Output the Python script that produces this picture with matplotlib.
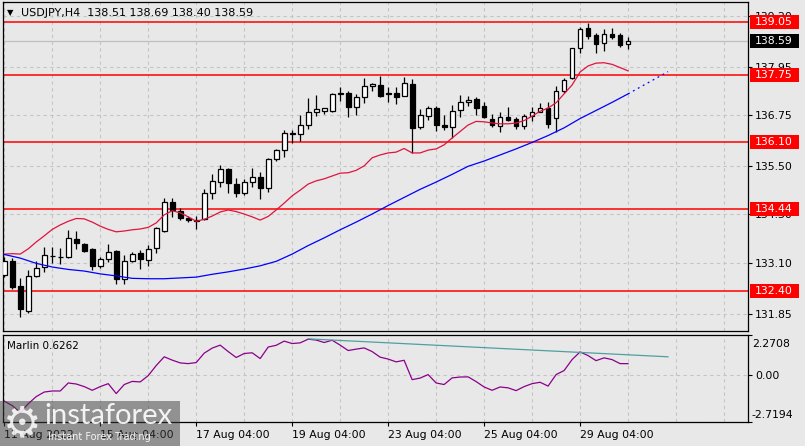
import matplotlib.pyplot as plt
import numpy as np
from matplotlib.patches import Rectangle
from matplotlib.transforms import blended_transform_factory

# USDJPY H4 candles, 11 Aug 2022 - 30 Aug 2022
opens = [132.80, 133.16, 132.53, 131.92, 132.79, 132.99, 133.26, 133.24, 133.24, 133.69,
         133.58, 133.44, 133.03, 133.20, 133.40, 132.70, 133.15, 133.35, 133.17, 133.46,
         133.90, 134.60, 134.39, 134.21, 134.15, 134.18, 134.82, 135.10, 135.42, 135.05,
         134.82, 135.10, 135.22, 134.95, 135.67, 135.89, 136.30, 136.29, 136.51, 136.84,
         136.86, 136.85, 137.27, 137.30, 136.96, 137.20, 137.47, 137.50, 137.29, 137.31,
         137.24, 137.52, 136.45, 136.74, 136.92, 136.51, 136.45, 136.88, 137.09, 137.15,
         136.99, 136.66, 136.49, 136.70, 136.66, 136.49, 136.73, 136.84, 136.92, 136.68,
         137.34, 137.67, 138.41, 138.90, 138.74, 138.53, 138.76, 138.74, 138.51]
highs = [133.25, 133.22, 132.72, 132.93, 133.15, 133.49, 133.50, 133.46, 133.92, 133.89,
         133.60, 133.48, 133.25, 133.57, 133.42, 133.30, 133.38, 133.43, 133.54, 134.00,
         134.70, 134.70, 134.47, 134.25, 134.25, 134.93, 135.30, 135.52, 135.45, 135.19,
         135.18, 135.44, 135.36, 135.70, 135.92, 136.39, 136.39, 136.76, 137.17, 137.25,
         136.93, 137.30, 137.46, 137.34, 137.28, 137.67, 137.55, 137.73, 137.46, 137.46,
         137.70, 137.64, 136.90, 136.98, 136.98, 136.75, 137.00, 137.25, 137.23, 137.20,
         137.07, 136.78, 136.84, 136.95, 136.72, 136.78, 136.96, 137.05, 137.07, 137.48,
         137.68, 138.42, 138.93, 139.04, 138.78, 138.88, 138.90, 138.78, 138.69]
lows = [132.75, 132.45, 131.76, 131.87, 132.75, 132.88, 133.10, 133.08, 133.22, 133.45,
        133.38, 132.93, 132.98, 133.13, 132.57, 132.57, 133.13, 132.96, 133.02, 133.34,
        133.87, 134.23, 134.16, 134.12, 133.93, 134.15, 134.67, 134.97, 134.82, 134.74,
        134.78, 134.99, 134.67, 134.86, 135.63, 135.73, 136.07, 136.12, 136.40, 136.73,
        136.78, 136.83, 137.11, 136.72, 136.76, 137.05, 137.36, 137.21, 137.09, 137.03,
        137.22, 135.81, 136.41, 136.63, 136.37, 136.39, 136.18, 136.72, 136.98, 136.76,
        136.68, 136.45, 136.33, 136.60, 136.41, 136.41, 136.61, 136.82, 136.43, 136.33,
        137.30, 137.65, 138.28, 138.64, 138.28, 138.34, 138.64, 138.45, 138.40]
closes = [133.15, 132.51, 131.95, 132.79, 132.97, 133.29, 133.28, 133.25, 133.71, 133.60,
          133.40, 133.03, 133.19, 133.36, 132.70, 133.15, 133.32, 133.20, 133.45, 133.96,
          134.60, 134.40, 134.22, 134.15, 134.13, 134.82, 135.13, 135.42, 135.07, 134.82,
          135.10, 135.22, 134.95, 135.67, 135.89, 136.32, 136.31, 136.51, 136.82, 136.91,
          136.92, 137.27, 137.29, 136.95, 137.20, 137.48, 137.53, 137.23, 137.28, 137.21,
          137.54, 136.44, 136.76, 136.92, 136.51, 136.45, 136.86, 137.09, 137.14, 136.92,
          136.72, 136.51, 136.70, 136.63, 136.49, 136.73, 136.84, 136.92, 136.53, 137.34,
          137.62, 138.41, 138.88, 138.72, 138.51, 138.76, 138.69, 138.49, 138.59]

# fast moving average (red)
ma_fast = [133.32, 133.33, 133.32, 133.45, 133.62, 133.77, 133.93, 134.04, 134.13, 134.20,
           134.19, 134.11, 134.01, 133.93, 133.87, 133.89, 133.92, 133.94, 133.98, 134.09,
           134.29, 134.39, 134.34, 134.24, 134.13, 134.18, 134.26, 134.36, 134.41, 134.37,
           134.31, 134.24, 134.16, 134.25, 134.41, 134.58, 134.76, 134.90, 135.05, 135.13,
           135.18, 135.25, 135.32, 135.33, 135.39, 135.50, 135.70, 135.77, 135.82, 135.84,
           135.93, 135.82, 135.82, 135.89, 135.92, 136.02, 136.19, 136.35, 136.51, 136.60,
           136.59, 136.56, 136.54, 136.54, 136.56, 136.62, 136.73, 136.85, 136.93, 137.06,
           137.28, 137.50, 137.82, 137.97, 138.04, 138.05, 138.01, 137.93, 137.85]

# slow moving average (blue), read every second bar, plus its forward projection
ma_slow_idx = list(range(0, 79, 2))
ma_slow = [133.31, 133.22, 133.09, 133.00, 132.94, 132.90, 132.83, 132.78, 132.72, 132.71,
           132.71, 132.73, 132.75, 132.82, 132.88, 132.95, 133.03, 133.14, 133.32, 133.53,
           133.72, 133.92, 134.11, 134.31, 134.52, 134.72, 134.92, 135.10, 135.29, 135.49,
           135.62, 135.77, 135.92, 136.08, 136.25, 136.44, 136.67, 136.87, 137.07, 137.28]
ma_slow_proj_idx = [78, 83]
ma_slow_proj = [137.28, 137.83]

# Marlin oscillator
marlin = [-1.52, -1.78, -2.18, -1.67, -1.26, -1.00, -0.94, -0.94, -0.48, -0.54,
          -0.69, -0.90, -0.69, -0.52, -1.09, -0.57, -0.39, -0.42, -0.06, 0.52,
          1.02, 0.83, 0.67, 0.63, 0.69, 1.23, 1.52, 1.69, 1.32, 0.98,
          1.21, 1.25, 0.92, 1.58, 1.68, 1.92, 1.78, 1.82, 2.03, 1.98,
          1.84, 1.97, 1.69, 1.38, 1.46, 1.53, 1.32, 1.00, 0.89, 0.73,
          0.82, -0.29, -0.20, 0.00, -0.48, -0.57, -0.19, -0.14, -0.13, -0.40,
          -0.71, -0.90, -0.71, -0.76, -0.92, -0.69, -0.52, -0.44, -0.66, 0.00,
          0.23, 0.86, 1.30, 1.09, 0.80, 0.96, 0.86, 0.63, 0.6262]
marlin_trend_idx = [38, 83]
marlin_trend = [2.05, 1.02]
marlin_max = 2.2708
marlin_min = -2.7194

levels = [139.05, 137.75, 136.10, 134.44, 132.40]
last_price = 138.59
price_ticks = [131.85, 133.10, 134.30, 135.50, 136.75, 137.95, 139.20]
date_idx = [0, 12, 24, 36, 48, 60, 72]
date_labels = ["11 Aug 2022", "15 Aug 04:00", "17 Aug 04:00", "19 Aug 04:00",
               "23 Aug 04:00", "25 Aug 04:00", "29 Aug 04:00"]

BG = "#e8e8e8"
GRID = "#c4c4c4"
FS = 7.8

W, H = 805, 446
fig = plt.figure(figsize=(W / 100, H / 100), dpi=100, facecolor=BG)
ax = fig.add_axes([3 / W, 1 - 331 / H, 745 / W, 329.5 / H], facecolor=BG)
ax2 = fig.add_axes([3 / W, 1 - 422 / H, 745 / W, 87 / H], facecolor=BG)

x = np.arange(len(opens))
o = np.array(opens)
c = np.array(closes)
up = c >= o

# candles
ax.vlines(x, lows, highs, color="black", lw=0.9, zorder=3)
body_lo = np.minimum(o, c)
body_h = np.maximum(np.abs(c - o), 0.004)
ax.bar(x, body_h, bottom=body_lo, width=0.6,
       color=np.where(up, "white", "black"), edgecolor="black", lw=0.9, zorder=4)

ax.plot(x, ma_fast, color="#e0143c", lw=0.9, zorder=5)
ax.plot(ma_slow_idx, ma_slow, color="#0000ff", lw=0.9, zorder=5)
ax.plot(ma_slow_proj_idx, ma_slow_proj, color="#0000ff", lw=0.9,
        ls=(0, (1.5, 3)), zorder=5)

for lv in levels:
    ax.axhline(lv, color="#ff0000", lw=1.1, zorder=2)
ax.axhline(last_price, color="#c0c0c0", lw=0.9, zorder=1)

xmin, xmax = -0.16, 93.0
ymin, ymax = 131.418, 139.564
ax.set_xlim(xmin, xmax)
ax.set_ylim(ymin, ymax)
ax.set_xticks(np.arange(0, 93, 6))
ax.tick_params(axis="x", length=0, labelbottom=False)
ax.yaxis.tick_right()
ax.set_yticks(price_ticks, labels=[f"{v:.2f}" for v in price_ticks])
ax.tick_params(axis="y", direction="out", length=3, width=0.8, labelsize=FS, pad=2)
ax.grid(True, color=GRID, ls=(0, (3, 3)), lw=0.8)

# price boxes on the right scale
tr = blended_transform_factory(ax.transAxes, ax.transData)
px = (ymax - ymin) / 329.5
def price_box(val, fc):
    ax.add_patch(Rectangle((1.0027, val - 7 * px), 0.066, 14 * px, transform=tr,
                           facecolor=fc, edgecolor="none", clip_on=False, zorder=6))
    ax.text(1.0094, val, f"{val:.2f}", transform=tr, color="white", fontsize=FS,
            va="center", ha="left", clip_on=False, zorder=7)

for lv in levels:
    price_box(lv, "#ff0000")
price_box(last_price, "black")

fig.text(7 / W, 1 - 13 / H, "\u25bc", fontsize=6, va="center", ha="left")
fig.text(21 / W, 1 - 13 / H,
         f"USDJPY,H4  {opens[-1]:.2f} {highs[-1]:.2f} {lows[-1]:.2f} {closes[-1]:.2f}",
         fontsize=8, va="center", ha="left")

# indicator window
ax2.plot(x, marlin, color="#8b008b", lw=0.9)
ax2.plot(marlin_trend_idx, marlin_trend, color="#4ea0a0", lw=0.9)
ax2.set_xlim(xmin, xmax)
ax2.set_ylim(marlin_min, marlin_max)
ax2.yaxis.tick_right()
ax2.set_yticks([marlin_min, 0, marlin_max], labels=["", "0.00", ""])
ax2.tick_params(axis="y", direction="out", length=3, width=0.8, labelsize=FS, pad=2)
ax2.set_xticks(np.arange(0, 93, 6), minor=True)
ax2.set_xticks(date_idx, labels=date_labels)
ax2.tick_params(axis="x", which="major", direction="out", length=3, width=0.8,
                labelsize=FS, pad=3)
ax2.tick_params(axis="x", which="minor", length=0)
for lbl in ax2.get_xticklabels():
    lbl.set_ha("left")
ax2.grid(True, which="both", color=GRID, ls=(0, (3, 3)), lw=0.8)
fig.text(752 / W, 1 - 344 / H, f"{marlin_max:.4f}", fontsize=FS, va="center")
fig.text(751 / W, 1 - 415 / H, f"{marlin_min:.4f}", fontsize=FS, va="center")
fig.text(7 / W, 1 - 346 / H, f"Marlin {marlin[-1]:.4f}", fontsize=7.5, va="center")

for a in (ax, ax2):
    for s in a.spines.values():
        s.set_color("black")
        s.set_linewidth(0.9)

# watermark
fig.add_artist(Rectangle((0, 0), 180 / W, 45 / H, transform=fig.transFigure,
                         facecolor="#3c3c3c", alpha=0.5, edgecolor="none", zorder=10))
fig.text(22 / W, 1 - 424 / H, "\u2699", fontsize=31, color="white", alpha=0.85,
         ha="center", va="center", zorder=11)
fig.text(44 / W, 1 - 416 / H, "instaforex", fontsize=21, color="white", alpha=0.9,
         family="Lato", ha="left", va="center", zorder=11)
fig.text(48 / W, 1 - 437 / H, "Instant Forex Trading", fontsize=7, color="white",
         alpha=0.9, ha="left", va="center", zorder=11)

fig.savefig("out.png", dpi=100, facecolor=BG)
